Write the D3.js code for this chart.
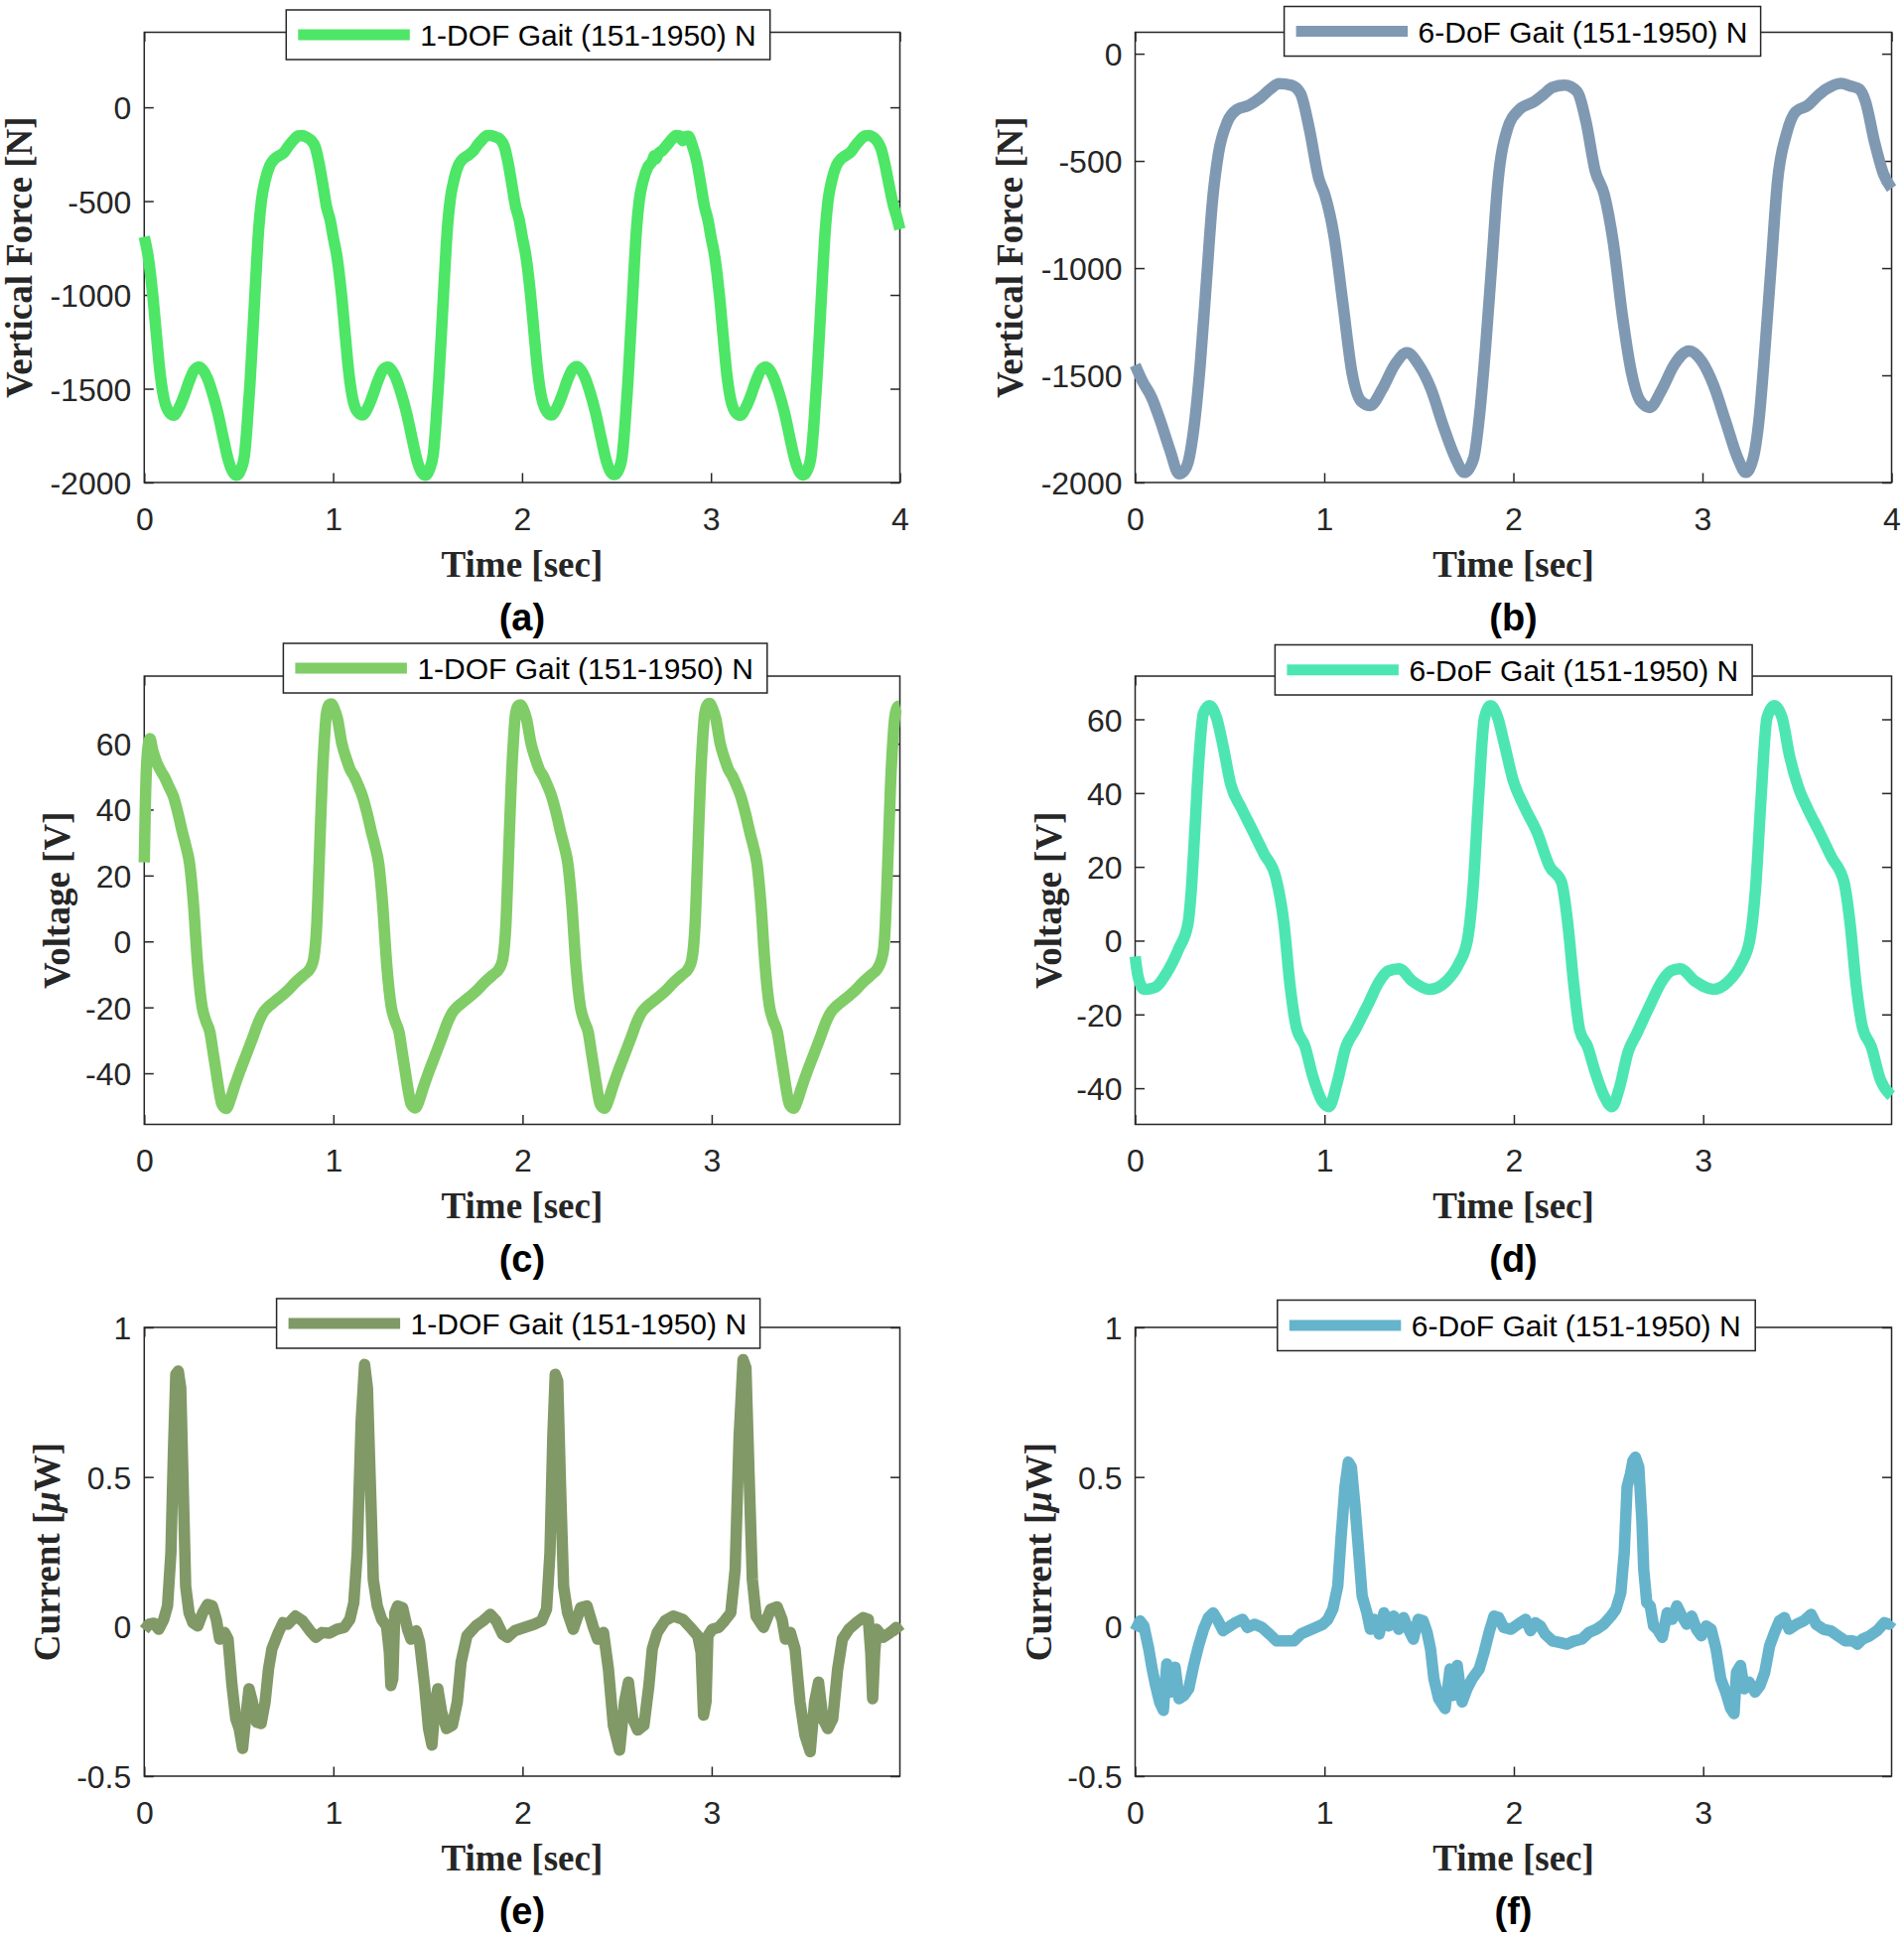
<!DOCTYPE html>
<html><head><meta charset="utf-8">
<script src="https://cdn.jsdelivr.net/npm/d3@7/dist/d3.min.js"></script>
<style>body{margin:0;background:#fff}svg{display:block}</style>
</head><body>
<svg id="fig" width="1918" height="1950"></svg>
<script>
// ---------------- DATA ----------------
const timeTicksFull = [0, 1, 2, 3, 4];
const timeTicksShort = [0, 1, 2, 3];
const forceTicks = [-2000, -1500, -1000, -500, 0];
const voltageTicks = [-40, -20, 0, 20, 40, 60];
const currentTicks = [-0.5, 0, 0.5, 1];
const legendNames = ['1-DOF Gait (151-1950) N', '6-DoF Gait (151-1950) N'];
const panelLetters = ['(a)', '(b)', '(c)', '(d)', '(e)', '(f)'];
const seriesColors = ['#4de666', '#8099b3', '#80cc66', '#4de6b3', '#809966', '#66b3cc'];

// (a) vertical force, 1-DOF  [time s, force N]
const force1DOF = [
[0.000,-690],[0.020,-790],[0.045,-1000],[0.065,-1220],[0.082,-1400],[0.100,-1530],[0.125,-1615],[0.155,-1642],[0.185,-1600],[0.210,-1540],[0.240,-1455],[0.265,-1400],[0.290,-1385],[0.310,-1400],[0.335,-1445],[0.360,-1520],[0.390,-1630],[0.420,-1770],[0.445,-1880],[0.470,-1945],[0.490,-1962],[0.510,-1935],[0.530,-1860],[0.545,-1690],[0.560,-1470],[0.575,-1200],[0.590,-920],[0.605,-660],[0.620,-500],[0.640,-390],[0.665,-310],[0.690,-275],[0.715,-258],[0.740,-240],[0.765,-205],[0.790,-175],[0.815,-152],[0.835,-150],[0.860,-160],[0.885,-178],[0.905,-210],[0.925,-295],[0.945,-410],[0.965,-530],[0.985,-605],
[1.000,-690],[1.020,-795],[1.045,-1005],[1.065,-1225],[1.082,-1405],[1.100,-1535],[1.125,-1618],[1.155,-1640],[1.185,-1598],[1.210,-1535],[1.240,-1450],[1.265,-1398],[1.290,-1385],[1.310,-1402],[1.335,-1450],[1.360,-1525],[1.390,-1635],[1.420,-1775],[1.445,-1885],[1.470,-1948],[1.490,-1962],[1.510,-1930],[1.530,-1850],[1.545,-1670],[1.560,-1440],[1.575,-1170],[1.590,-890],[1.605,-640],[1.620,-490],[1.640,-385],[1.665,-305],[1.690,-272],[1.715,-255],[1.740,-235],[1.765,-200],[1.790,-172],[1.815,-150],[1.835,-150],[1.860,-158],[1.885,-172],[1.905,-205],[1.925,-290],[1.945,-405],[1.965,-525],[1.985,-600],
[2.000,-685],[2.020,-790],[2.045,-1000],[2.065,-1220],[2.082,-1400],[2.100,-1530],[2.125,-1612],[2.155,-1640],[2.185,-1600],[2.210,-1540],[2.240,-1455],[2.265,-1400],[2.290,-1382],[2.310,-1398],[2.335,-1445],[2.360,-1520],[2.390,-1630],[2.420,-1770],[2.445,-1880],[2.470,-1945],[2.490,-1958],[2.510,-1935],[2.530,-1860],[2.545,-1690],[2.560,-1470],[2.575,-1200],[2.590,-920],[2.605,-660],[2.620,-500],[2.640,-395],[2.665,-320],[2.690,-285],[2.700,-258],[2.708,-275],[2.720,-250],[2.745,-228],[2.770,-198],[2.795,-168],[2.815,-150],[2.835,-152],[2.850,-178],[2.862,-158],[2.880,-155],[2.900,-200],[2.925,-290],[2.945,-405],[2.965,-525],[2.985,-605],
[3.000,-690],[3.020,-795],[3.045,-1005],[3.065,-1225],[3.082,-1405],[3.100,-1535],[3.125,-1618],[3.155,-1642],[3.185,-1600],[3.210,-1540],[3.240,-1455],[3.265,-1400],[3.290,-1385],[3.310,-1400],[3.335,-1448],[3.360,-1522],[3.390,-1632],[3.420,-1772],[3.445,-1882],[3.470,-1946],[3.490,-1960],[3.510,-1935],[3.530,-1858],[3.545,-1685],[3.560,-1460],[3.575,-1190],[3.590,-910],[3.605,-655],[3.620,-495],[3.640,-388],[3.665,-308],[3.690,-274],[3.715,-256],[3.740,-238],[3.765,-203],[3.790,-174],[3.815,-152],[3.835,-150],[3.860,-160],[3.880,-180],[3.900,-220],[3.920,-300],[3.940,-400],[3.965,-520],[3.985,-590],[4.000,-650]
];

// (b) vertical force, 6-DoF
const force6DoF = [
[0.000,-1452],[0.040,-1530],[0.087,-1603],[0.135,-1717],[0.184,-1849],[0.232,-1960],[0.260,-1945],[0.280,-1906],[0.312,-1736],[0.344,-1452],[0.376,-1074],[0.408,-695],[0.440,-468],[0.488,-317],[0.537,-261],[0.601,-241],[0.665,-204],[0.715,-165],[0.762,-140],[0.826,-147],[0.874,-185],[0.922,-355],[0.971,-582],[1.003,-658],[1.051,-847],[1.099,-1168],[1.147,-1490],[1.196,-1622],[1.244,-1641],[1.306,-1565],[1.372,-1452],[1.437,-1395],[1.500,-1452],[1.565,-1565],[1.629,-1736],[1.694,-1887],[1.741,-1953],[1.790,-1887],[1.822,-1679],[1.854,-1358],[1.886,-979],[1.918,-601],[1.967,-355],[2.031,-261],[2.111,-223],[2.160,-190],[2.207,-157],[2.272,-147],[2.336,-176],[2.384,-317],[2.432,-544],[2.481,-658],[2.529,-885],[2.577,-1225],[2.625,-1490],[2.673,-1622],[2.721,-1650],[2.786,-1565],[2.850,-1452],[2.930,-1386],[2.995,-1433],[3.059,-1547],[3.123,-1717],[3.187,-1887],[3.229,-1953],[3.268,-1887],[3.300,-1698],[3.332,-1358],[3.364,-979],[3.396,-601],[3.444,-374],[3.493,-270],[3.557,-241],[3.605,-200],[3.653,-166],[3.733,-138],[3.780,-150],[3.830,-166],[3.862,-223],[3.910,-412],[3.958,-563],[4.000,-629]
];

// (c) voltage, 1-DOF  [time s, V]
const voltage1DOF = [
[0.000,24],[0.006,42],[0.015,56],[0.030,61.5],[0.045,58],[0.068,54],[0.090,51.5],[0.106,50],[0.130,47],[0.154,44],[0.180,38.5],[0.202,33],[0.220,29],[0.240,23.5],[0.260,11.6],[0.282,-7],[0.305,-19.5],[0.325,-24],[0.347,-27.5],[0.365,-34],[0.380,-39.5],[0.395,-45],[0.411,-49.4],[0.433,-50.7],[0.455,-48],[0.475,-44.4],[0.505,-39.5],[0.539,-34.4],[0.575,-29],[0.604,-24.5],[0.630,-21.5],[0.651,-20.1],[0.690,-18.2],[0.716,-17],[0.760,-14.8],[0.796,-12.6],[0.840,-10.3],[0.876,-8.3],[0.895,-5.5],[0.905,-1],[0.913,6],[0.921,17.9],[0.931,34],[0.941,49],[0.952,61],[0.963,69],[0.977,71.8],[0.989,72.1],[1.005,70.5],[1.021,67.7],[1.045,60],[1.069,55.3],[1.090,52],[1.106,50.5],
[1.130,47.5],[1.154,44],[1.180,38.5],[1.202,33],[1.220,29],[1.240,23.5],[1.260,11.6],[1.282,-7],[1.305,-19.5],[1.325,-24],[1.347,-27.5],[1.365,-34],[1.380,-39.5],[1.395,-45],[1.411,-49.4],[1.433,-50.5],[1.455,-48],[1.475,-44.4],[1.505,-39.5],[1.539,-34.4],[1.575,-29],[1.604,-24.5],[1.630,-21.5],[1.651,-20.1],[1.690,-18.2],[1.716,-17],[1.760,-14.8],[1.796,-12.6],[1.840,-10.3],[1.876,-8.3],[1.895,-5.5],[1.905,-1],[1.913,6],[1.921,17.9],[1.931,34],[1.941,49],[1.952,61],[1.963,69],[1.977,71.5],[1.989,71.8],[2.005,70.3],[2.021,67.5],[2.045,60],[2.069,55.3],[2.090,52],[2.106,50.5],
[2.130,47.5],[2.154,44],[2.180,38.5],[2.202,33],[2.220,29],[2.240,23.5],[2.260,11.6],[2.282,-7],[2.305,-19.5],[2.325,-24],[2.347,-27.5],[2.365,-34],[2.380,-39.5],[2.395,-45],[2.411,-49.4],[2.433,-50.6],[2.455,-48],[2.475,-44.4],[2.505,-39.5],[2.539,-34.4],[2.575,-29],[2.604,-24.5],[2.630,-21.5],[2.651,-20.1],[2.690,-18.2],[2.716,-17],[2.760,-14.8],[2.796,-12.6],[2.840,-10.3],[2.876,-8.3],[2.895,-5.5],[2.905,-1],[2.913,6],[2.921,17.9],[2.931,34],[2.941,49],[2.952,61],[2.963,69],[2.977,71.8],[2.989,72.2],[3.005,70.6],[3.021,67.8],[3.045,60],[3.069,55.3],[3.090,52],[3.106,50.5],
[3.130,47.5],[3.154,44],[3.180,38.5],[3.202,33],[3.220,29],[3.240,23.5],[3.260,11.6],[3.282,-7],[3.305,-19.5],[3.325,-24],[3.347,-27.5],[3.365,-34],[3.380,-39.5],[3.395,-45],[3.411,-49.4],[3.433,-50.6],[3.455,-48],[3.475,-44.4],[3.505,-39.5],[3.539,-34.4],[3.575,-29],[3.604,-24.5],[3.630,-21.5],[3.651,-20.1],[3.690,-18.2],[3.716,-17],[3.760,-14.8],[3.796,-12.6],[3.840,-10.3],[3.876,-8.3],[3.895,-6],[3.910,-2],[3.918,5],[3.926,16],[3.936,32],[3.946,48],[3.957,60],[3.968,68],[3.982,71.2],[3.995,71.5]
];

// (d) voltage, 6-DoF
const voltage6DoF = [
[0.000,-4.3],[0.016,-9.9],[0.048,-13.2],[0.103,-12.7],[0.167,-8.7],[0.231,-2.1],[0.279,4.6],[0.297,14],[0.312,26.9],[0.337,49.2],[0.360,61.5],[0.392,63.7],[0.430,60.4],[0.465,52.6],[0.504,42.5],[0.562,35.8],[0.616,30.3],[0.680,23.6],[0.744,16.9],[0.786,4.6],[0.818,-12.1],[0.850,-23.2],[0.898,-28.8],[0.937,-36.6],[0.985,-43.3],[1.024,-45],[1.065,-38.9],[1.113,-28.8],[1.161,-24.3],[1.226,-17.7],[1.290,-11],[1.338,-8.2],[1.393,-7.6],[1.465,-11],[1.556,-13.2],[1.643,-11],[1.707,-6.5],[1.755,0.2],[1.787,15.8],[1.813,38.1],[1.845,60.4],[1.877,63.7],[1.915,60.4],[1.948,53.7],[1.995,43.7],[2.060,35.8],[2.124,29.2],[2.188,20.2],[2.252,15.8],[2.285,4.6],[2.317,-12.1],[2.348,-24.3],[2.390,-28.8],[2.429,-35.5],[2.477,-42.2],[2.519,-45],[2.557,-40],[2.605,-29.9],[2.646,-25.5],[2.717,-17.7],[2.782,-11],[2.830,-8.2],[2.878,-7.6],[2.958,-11],[3.054,-13.2],[3.134,-11],[3.198,-6.5],[3.246,0.2],[3.279,15.8],[3.305,38.1],[3.337,60.4],[3.375,63.7],[3.417,60.4],[3.455,50.3],[3.503,41.5],[3.551,35.8],[3.616,29.2],[3.679,22.5],[3.744,15.8],[3.776,4.6],[3.808,-12.1],[3.840,-23.2],[3.888,-28.8],[3.936,-37.7],[3.985,-41.6],[3.994,-42]
];

// (e) current, 1-DOF  [time s, uW]
const current1DOF = [
[0.000,-0.011],[0.025,0.008],[0.051,0.011],[0.077,-0.009],[0.103,0.024],[0.123,0.069],[0.141,0.246],[0.154,0.577],[0.167,0.843],[0.180,0.854],[0.193,0.798],[0.206,0.467],[0.219,0.135],[0.237,0.046],[0.257,0.013],[0.283,0.002],[0.309,0.046],[0.335,0.074],[0.360,0.069],[0.381,0.024],[0.399,-0.042],[0.425,-0.020],[0.443,-0.042],[0.464,-0.197],[0.484,-0.308],[0.502,-0.341],[0.520,-0.407],[0.536,-0.308],[0.554,-0.208],[0.572,-0.252],[0.593,-0.319],[0.618,-0.324],[0.639,-0.252],[0.657,-0.142],[0.675,-0.075],[0.709,-0.020],[0.734,0.013],[0.760,0.008],[0.799,0.035],[0.837,0.019],[0.876,-0.014],[0.907,-0.036],[0.940,-0.020],[0.979,-0.022],
[1.018,-0.009],[1.057,-0.003],[1.087,0.024],[1.108,0.080],[1.126,0.246],[1.147,0.688],[1.165,0.876],[1.180,0.798],[1.196,0.467],[1.211,0.157],[1.232,0.069],[1.255,0.024],[1.281,0.002],[1.296,-0.086],[1.304,-0.197],[1.314,-0.175],[1.325,0.046],[1.340,0.069],[1.366,0.063],[1.392,-0.009],[1.410,-0.042],[1.438,-0.014],[1.456,-0.053],[1.482,-0.197],[1.503,-0.341],[1.521,-0.396],[1.539,-0.252],[1.552,-0.208],[1.572,-0.285],[1.598,-0.341],[1.629,-0.330],[1.655,-0.252],[1.675,-0.119],[1.706,-0.031],[1.753,0.002],[1.791,0.019],[1.830,0.041],[1.861,0.019],[1.894,-0.025],[1.920,-0.036],[1.959,-0.014],
[2.010,-0.003],[2.062,0.008],[2.101,0.019],[2.127,0.058],[2.145,0.246],[2.160,0.633],[2.173,0.843],[2.186,0.821],[2.201,0.467],[2.217,0.135],[2.238,0.046],[2.268,-0.009],[2.307,0.063],[2.341,0.069],[2.372,0.002],[2.397,-0.042],[2.428,-0.020],[2.454,-0.142],[2.480,-0.330],[2.513,-0.413],[2.539,-0.252],[2.560,-0.186],[2.583,-0.308],[2.609,-0.346],[2.642,-0.330],[2.668,-0.197],[2.686,-0.075],[2.712,-0.020],[2.753,0.019],[2.797,0.035],[2.848,0.024],[2.887,-0.003],[2.926,-0.031],[2.944,-0.086],[2.957,-0.296],[2.970,-0.252],[2.980,-0.031],
[3.003,-0.009],[3.037,-0.003],[3.068,0.019],[3.101,0.046],[3.124,0.190],[3.145,0.633],[3.166,0.892],[3.181,0.865],[3.197,0.522],[3.215,0.157],[3.235,0.035],[3.274,-0.003],[3.312,0.058],[3.346,0.066],[3.372,0.024],[3.390,-0.042],[3.416,-0.020],[3.441,-0.075],[3.467,-0.252],[3.493,-0.363],[3.521,-0.418],[3.544,-0.252],[3.565,-0.186],[3.588,-0.308],[3.614,-0.341],[3.640,-0.308],[3.666,-0.142],[3.691,-0.042],[3.725,-0.009],[3.764,0.013],[3.802,0.030],[3.828,0.024],[3.841,-0.086],[3.851,-0.241],[3.862,-0.086],[3.872,-0.009],[3.906,-0.036],[3.944,-0.020],[3.975,-0.003],[3.996,-0.020]
];

// (f) current, 6-DoF
const current6DoF = [
[0.000,-0.014],[0.026,0.019],[0.046,0.002],[0.072,-0.075],[0.090,-0.142],[0.108,-0.197],[0.129,-0.252],[0.149,-0.280],[0.167,-0.125],[0.188,-0.219],[0.211,-0.136],[0.232,-0.241],[0.258,-0.230],[0.283,-0.208],[0.309,-0.130],[0.335,-0.064],[0.361,-0.009],[0.387,0.030],[0.412,0.046],[0.438,0.019],[0.464,-0.014],[0.490,-0.003],[0.528,0.013],[0.567,0.024],[0.593,-0.003],[0.631,0.008],[0.670,-0.003],[0.709,-0.025],[0.747,-0.048],[0.799,-0.048],[0.838,-0.048],[0.876,-0.025],[0.915,-0.014],[0.954,-0.003],[0.992,0.008],
[1.018,0.024],[1.044,0.058],[1.070,0.135],[1.088,0.301],[1.108,0.467],[1.126,0.550],[1.142,0.533],[1.160,0.411],[1.181,0.246],[1.199,0.102],[1.224,0.046],[1.242,-0.009],[1.263,0.024],[1.289,-0.025],[1.314,0.046],[1.340,0.002],[1.366,0.035],[1.392,-0.009],[1.418,0.030],[1.443,-0.009],[1.469,-0.042],[1.495,0.024],[1.521,0.019],[1.542,-0.020],[1.560,-0.075],[1.578,-0.175],[1.603,-0.241],[1.637,-0.274],[1.663,-0.142],[1.681,-0.230],[1.701,-0.130],[1.727,-0.252],[1.753,-0.208],[1.779,-0.175],[1.817,-0.142],[1.843,-0.086],[1.869,-0.020],[1.895,0.035],[1.920,0.030],[1.946,-0.003],[1.985,-0.009],
[2.023,0.008],[2.062,0.024],[2.088,-0.014],[2.114,0.013],[2.140,0.002],[2.165,-0.025],[2.204,-0.048],[2.243,-0.053],[2.281,-0.059],[2.320,-0.048],[2.359,-0.042],[2.397,-0.020],[2.436,-0.009],[2.475,0.008],[2.513,0.035],[2.539,0.058],[2.565,0.113],[2.583,0.246],[2.598,0.467],[2.616,0.511],[2.629,0.555],[2.642,0.566],[2.660,0.533],[2.676,0.356],[2.686,0.190],[2.702,0.080],[2.720,0.069],[2.738,0.002],[2.758,-0.009],[2.784,-0.036],[2.810,0.046],[2.836,0.024],[2.861,0.069],[2.887,0.035],[2.913,0.008],[2.939,0.035],[2.965,-0.009],[2.990,-0.031],
[3.016,0.002],[3.042,-0.009],[3.068,-0.075],[3.093,-0.175],[3.119,-0.219],[3.145,-0.274],[3.163,-0.291],[3.176,-0.153],[3.197,-0.130],[3.217,-0.208],[3.243,-0.186],[3.274,-0.219],[3.300,-0.197],[3.325,-0.153],[3.351,-0.064],[3.377,-0.020],[3.403,0.019],[3.429,0.030],[3.454,-0.009],[3.493,0.008],[3.532,0.019],[3.570,0.041],[3.596,0.008],[3.635,-0.009],[3.673,-0.014],[3.712,-0.031],[3.751,-0.048],[3.790,-0.048],[3.815,-0.059],[3.841,-0.042],[3.880,-0.031],[3.918,-0.014],[3.957,0.013],[3.983,0.008],[3.996,0.019]
];

// ---------------- LAYOUT ----------------
const SANS = "'Liberation Sans', Arial, Helvetica, sans-serif";
const SERIF = "'Liberation Serif', 'Times New Roman', Times, serif";
const INK = '#262626';
const colL = [145.3, 906.5], colR = [1143.5, 1905.5];
const row1 = [32.5, 486], row2 = [681, 1132.5], row3 = [1337, 1789];

const panels = [
  {data: force1DOF, color: seriesColors[0], xr: colL, yr: row1, xd: [0, 4], yd: [-2000, 400], xt: timeTicksFull, yt: forceTicks, yl: 'force', ylOff: 125.5, leg: [288.3, 10, 487.4, 50], name: legendNames[0], smooth: true, letter: panelLetters[0]},
  {data: force6DoF, color: seriesColors[1], xr: colR, yr: row1, xd: [0, 4], yd: [-2000, 100], xt: timeTicksFull, yt: forceTicks, yl: 'force', ylOff: 125.5, leg: [1293.6, 6.5, 480, 50], name: legendNames[1], smooth: true, letter: panelLetters[1]},
  {data: voltage1DOF, color: seriesColors[2], xr: colL, yr: row2, xd: [0, 3.995], yd: [-55.5, 80.5], xt: timeTicksShort, yt: voltageTicks, yl: 'voltage', ylOff: 87.2, leg: [285.4, 648, 487.4, 50], name: legendNames[0], smooth: true, letter: panelLetters[2]},
  {data: voltage6DoF, color: seriesColors[3], xr: colR, yr: row2, xd: [0, 3.995], yd: [-49.8, 71.7], xt: timeTicksShort, yt: voltageTicks, yl: 'voltage', ylOff: 87.2, leg: [1284.4, 649.5, 480.7, 50.5], name: legendNames[1], smooth: true, letter: panelLetters[3]},
  {data: current1DOF, color: seriesColors[4], xr: colL, yr: row3, xd: [0, 3.995], yd: [-0.5, 1], xt: timeTicksShort, yt: currentTicks, yl: 'current', ylOff: 97.2, leg: [278.6, 1308, 487, 50], name: legendNames[0], smooth: false, letter: panelLetters[4]},
  {data: current6DoF, color: seriesColors[5], xr: colR, yr: row3, xd: [0, 3.995], yd: [-0.5, 1], xt: timeTicksShort, yt: currentTicks, yl: 'current', ylOff: 97.2, leg: [1286.8, 1309.5, 481.4, 51], name: legendNames[1], smooth: false, letter: panelLetters[5]}
];

const svg = d3.select('#fig');
svg.append('rect').attr('width', 1918).attr('height', 1950).attr('fill', '#fff');

const TICK = 9.5;

function styleAxis(g, showLabels) {
  g.select('.domain').remove();
  g.selectAll('.tick line').attr('stroke', INK).attr('stroke-width', 1.5);
  if (!showLabels) g.selectAll('.tick text').remove();
  else g.selectAll('.tick text').attr('fill', INK).attr('font-family', SANS).attr('font-size', 32);
}

panels.forEach(p => {
  const [L, R] = p.xr, [T, B] = p.yr;
  const x = d3.scaleLinear().domain(p.xd).range([L, R]);
  const y = d3.scaleLinear().domain(p.yd).range([B, T]);
  const g = svg.append('g');

  // box
  g.append('rect').attr('x', L).attr('y', T).attr('width', R - L).attr('height', B - T)
    .attr('fill', 'none').attr('stroke', INK).attr('stroke-width', 1.5);

  // bottom axis with labels
  const gb = g.append('g').attr('transform', `translate(0,${B})`)
    .call(d3.axisBottom(x).tickValues(p.xt).tickSize(-TICK).tickSizeOuter(0).tickPadding(0).tickFormat(d => String(d)));
  styleAxis(gb, true);
  gb.selectAll('.tick text').attr('y', 47.5).attr('dy', null);

  // top mirrored ticks
  const gt = g.append('g').attr('transform', `translate(0,${T})`)
    .call(d3.axisTop(x).tickValues(p.xt).tickSize(-TICK).tickSizeOuter(0));
  styleAxis(gt, false);

  // left axis with labels
  const gl = g.append('g').attr('transform', `translate(${L},0)`)
    .call(d3.axisLeft(y).tickValues(p.yt).tickSize(-TICK).tickSizeOuter(0).tickPadding(0).tickFormat(d => String(d)));
  styleAxis(gl, true);
  gl.selectAll('.tick text').attr('x', -13).attr('dy', '0.36em');

  // right mirrored ticks
  const gr = g.append('g').attr('transform', `translate(${R},0)`)
    .call(d3.axisRight(y).tickValues(p.yt).tickSize(-TICK).tickSizeOuter(0));
  styleAxis(gr, false);

  // data line
  const line = d3.line().x(d => x(d[0])).y(d => y(d[1]))
    .curve(p.smooth ? d3.curveMonotoneX : d3.curveLinear);
  g.append('path').datum(p.data).attr('d', line).attr('fill', 'none')
    .attr('stroke', p.color).attr('stroke-width', 11.5)
    .attr('stroke-linejoin', 'round').attr('stroke-linecap', 'butt');

  // x label
  const cx = (L + R) / 2;
  g.append('text').attr('x', cx).attr('y', B + 94.7).attr('text-anchor', 'middle')
    .attr('font-family', SERIF).attr('font-weight', 'bold').attr('font-size', 37).attr('fill', INK)
    .text('Time [sec]');

  // y label
  const ly = (T + B) / 2, lx = L - p.ylOff;
  const yt = g.append('text').attr('transform', `translate(${lx},${ly}) rotate(-90)`)
    .attr('text-anchor', 'middle').attr('dy', '0.33em')
    .attr('font-family', SERIF).attr('font-weight', 'bold').attr('font-size', 37).attr('fill', INK);
  if (p.yl === 'force') yt.text('Vertical Force [N]');
  else if (p.yl === 'voltage') yt.text('Voltage [V]');
  else {
    yt.append('tspan').text('Current [');
    yt.append('tspan').attr('font-style', 'italic').text('\u03BC');
    yt.append('tspan').text('W]');
  }

  // panel letter
  g.append('text').attr('x', cx).attr('y', B + 148.5).attr('text-anchor', 'middle')
    .attr('font-family', SANS).attr('font-weight', 'bold').attr('font-size', 38).attr('fill', '#000')
    .text(p.letter);

  // legend
  const [bx, by, bw, bh] = p.leg;
  const lg = g.append('g');
  lg.append('rect').attr('x', bx).attr('y', by).attr('width', bw).attr('height', bh)
    .attr('fill', '#fff').attr('stroke', INK).attr('stroke-width', 1.5);
  const cy = by + bh / 2;
  lg.append('line').attr('x1', bx + 12).attr('x2', bx + 124.5).attr('y1', cy).attr('y2', cy)
    .attr('stroke', p.color).attr('stroke-width', 11);
  lg.append('text').attr('x', bx + 135).attr('y', cy + 11)
    .attr('font-family', SANS).attr('font-size', 30).attr('fill', '#000')
    .text(p.name);
});
</script>
</body></html>
